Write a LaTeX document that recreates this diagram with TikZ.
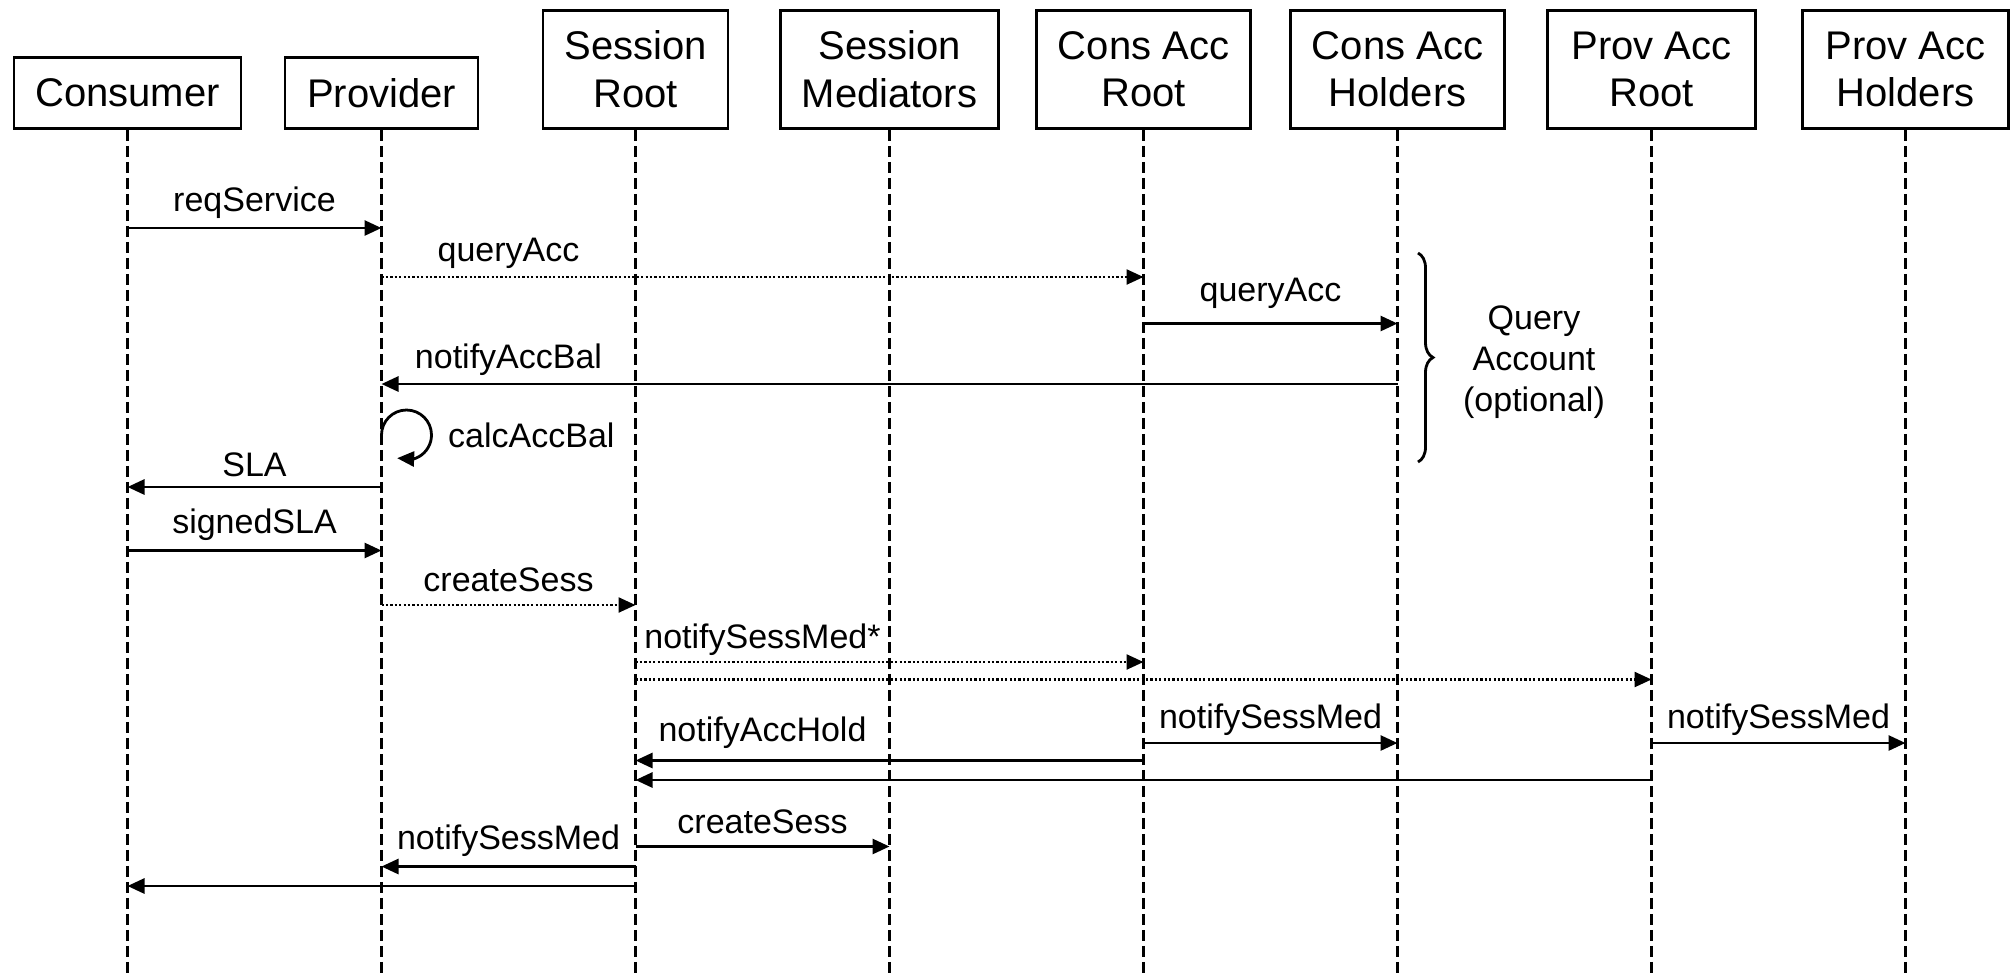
\documentclass[tikz,border=0pt]{standalone}
\usepackage{fontspec}
\setmainfont{Liberation Sans}
\usetikzlibrary{arrows.meta,bending,decorations.pathreplacing,calc}
\begin{document}
\begin{tikzpicture}[x=1pt,y=-1pt,
  actor/.style={draw, line width=2.8pt, inner sep=0pt, align=center,
                font=\fontsize{40}{47.6}\selectfont},
  lifeline/.style={line width=2.6pt, dash pattern=on 11pt off 5pt},
  msg/.style={line width=2.8pt, -{Triangle[length=17pt,width=15pt]}},
  async/.style={msg, line width=2.4pt, dash pattern=on 2.2pt off 2.2pt},
  lbl/.style={inner sep=0pt, font=\fontsize{34}{40}\selectfont},
]
\useasboundingbox (0,0) rectangle (2013,975);

% participants
\node[actor, minimum width=227pt,   minimum height=70.7pt] (cons)  at (127.5,93.1)  {Consumer};
\node[actor, minimum width=193pt,   minimum height=70.7pt] (prov)  at (381.5,93.1)  {Provider};
\node[actor, minimum width=185pt,   minimum height=118.2pt] (sroot) at (635.5,69.4)  {Session\\Root};
\node[actor, minimum width=218.5pt, minimum height=118.2pt] (smed)  at (889.5,69.4)  {Session\\Mediators};
\node[actor, minimum width=214.5pt, minimum height=118.2pt] (car)   at (1143.5,69.4) {Cons Acc\\Root};
\node[actor, minimum width=214.5pt, minimum height=118.2pt] (cah)   at (1397.5,69.4) {Cons Acc\\Holders};
\node[actor, minimum width=208pt,   minimum height=118.2pt] (par)   at (1651.5,69.4) {Prov Acc\\Root};
\node[actor, minimum width=205.5pt, minimum height=118.2pt] (pah)   at (1905.5,69.4) {Prov Acc\\Holders};

% lifelines
\foreach \n in {cons,prov,sroot,smed,car,cah,par,pah}
  \draw[lifeline] (\n.south) -- (\n.south |- 0,975);

% messages
\draw[msg]   (cons |- 0,228)  -- (prov |- 0,228);
\node[lbl] (l1) at (254.5,203) {reqService};

\draw[async] (prov |- 0,277)  -- (car |- 0,277);
\node[lbl] (l2) at (508.5,253) {queryAcc};

\draw[msg]   (car |- 0,323.5) -- (cah |- 0,323.5);
\node[lbl] (l3) at (1270.5,293) {queryAcc};

\draw[msg]   (cah |- 0,384)   -- (prov |- 0,384);
\node[lbl] (l4) at (508.5,360) {notifyAccBal};

% self call: a loop on the provider lifeline
\draw[msg]   (prov |- 0,435) arc[start angle=180, end angle=-112, radius=25pt];
\node[lbl, anchor=west] (l5) at (448,435) {calcAccBal};

\draw[msg]   (prov |- 0,487)  -- (cons |- 0,487);
\node[lbl] (l6) at (254.5,465) {SLA};

\draw[msg]   (cons |- 0,550.5) -- (prov |- 0,550.5);
\node[lbl] (l7) at (254.5,525) {signedSLA};

\draw[async] (prov |- 0,605)  -- (sroot |- 0,605);
\node[lbl] (l8) at (508.5,580) {createSess};

\draw[async] (sroot |- 0,662) -- (car |- 0,662);
\node[lbl] (l9) at (762.5,640) {notifySessMed*};
\draw[async] (sroot |- 0,679.5) -- (par |- 0,679.5);

\draw[msg]   (car |- 0,743)   -- (cah |- 0,743);
\node[lbl] (l10) at (1270.5,720) {notifySessMed};
\draw[msg]   (par |- 0,743)   -- (pah |- 0,743);
\node[lbl] (l11) at (1778.5,720) {notifySessMed};

\draw[msg]   (car |- 0,760.5) -- (sroot |- 0,760.5);
\node[lbl] (l12) at (762.5,733) {notifyAccHold};
\draw[msg]   (par |- 0,780)   -- (sroot |- 0,780);

\draw[msg]   (sroot |- 0,846.5) -- (smed |- 0,846.5);
\node[lbl] (l13) at (762.5,821.5) {createSess};

\draw[msg]   (sroot |- 0,866.5) -- (prov |- 0,866.5);
\node[lbl] (l14) at (508.5,841) {notifySessMed};

\draw[msg]   (sroot |- 0,886) -- (cons |- 0,886);

% optional query block
\coordinate (brtop) at (1418,253);
\coordinate (brbot) at (1418,462);
\draw[line width=2.8pt, decorate, decoration={brace, amplitude=15pt}] (brtop) -- (brbot);
\node[lbl, align=center, font=\fontsize{34}{41}\selectfont] (qa) at (1534,362) {Query\\Account\\(optional)};
\end{tikzpicture}
\end{document}
